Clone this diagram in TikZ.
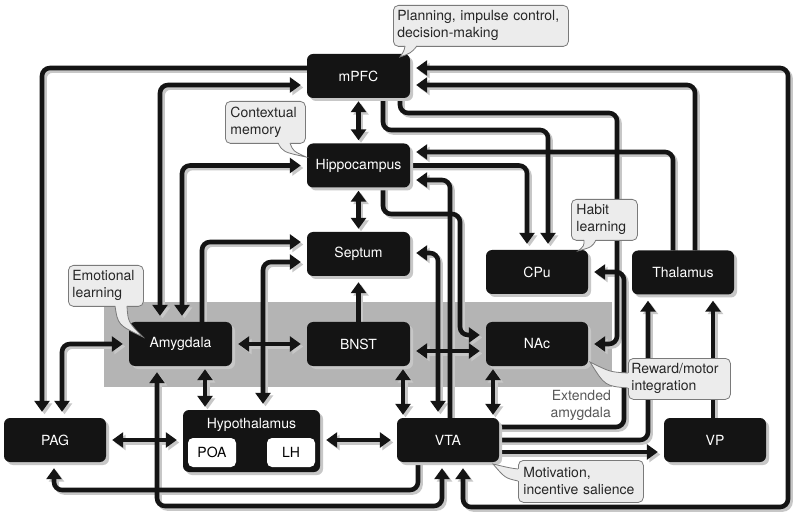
\documentclass[tikz,border=0pt]{standalone}
\usepackage{fontspec}
\setmainfont{TeX Gyre Heros}
\usetikzlibrary{arrows.meta,shadows}
\pgfdeclarelayer{back}
\pgfdeclarelayer{lines}
\pgfsetlayers{back,lines,main}
\definecolor{boxblack}{HTML}{141414}
\definecolor{calloutfill}{HTML}{ECECEC}
\definecolor{calloutedge}{HTML}{7A7A7A}
\definecolor{regiongray}{HTML}{B4B4B4}
\tikzset{
  box/.style={fill=boxblack, rounded corners=6pt, minimum width=103pt, minimum height=44pt,
    inner sep=0pt, text=white, font=\fontsize{14}{17}\selectfont,
    drop shadow={shadow xshift=3pt, shadow yshift=-3pt, fill=black!22, opacity=1}},
  subbox/.style={fill=white, rounded corners=5pt, minimum width=48pt, minimum height=29pt,
    inner sep=0pt, text=black, font=\fontsize{14}{17}\selectfont},
  conn/.style={line width=4.6pt, rounded corners=8pt},
  oneway/.style={conn, ->, shorten >=6pt},
  twoway/.style={conn, <->, shorten >=6pt, shorten <=6pt},
  shortdbl/.style={conn, <->, shorten >=3pt, shorten <=3pt},
  callout/.style={fill=calloutfill, draw=calloutedge, line width=0.8pt, rounded corners=5pt,
    anchor=north west, align=left, inner ysep=0pt, text=black!85,
    font=\fontsize{14}{17}\selectfont,
    execute at begin node={\hyphenpenalty=10000\exhyphenpenalty=10000}},
  tailfill/.style={fill=calloutfill},
  tailline/.style={draw=calloutedge, line width=0.8pt},
}
\newcommand\allconns{%
  \draw[shortdbl] (mpfc.south) -- (hip.north);
  \draw[shortdbl] (hip.south) -- (sep.north);
  \draw[oneway] (bnst.north) -- (sep.south);
  \draw[twoway] (amy.east) -- (bnst.west);
  \draw[twoway] (bnst.east |- 0,351) -- (nac.west |- 0,351);
  \draw[shortdbl] (amy.south -| 205,0) -- (hyp.north -| 205,0);
  \draw[shortdbl] (bnst.south -| 403,0) -- (vta.north -| 403,0);
  \draw[shortdbl] (nac.south -| 493,0) -- (vta.north -| 493,0);
  \draw[twoway] (pag.east) -- (hyp.west |- pag.east);
  \draw[twoway] (hyp.east |- vta.west) -- (vta.west);
  \draw[oneway] (vta.east |- 0,452) -- (vp.west |- 0,452);
  \draw[oneway] (vp.north -| 713,0) -- (thal.south -| 713,0);
  \draw[oneway] (vta.east) -| (thal.south -| 648,0);
  \draw[oneway] (vta.east |- 0,427) -| (624,272) -- (cpu.east);
  \draw[oneway] (mpfc.south -| 400,0) |- (617,113) |- (nac.east);
  \draw[oneway] (mpfc.south -| 383,0) |- (548,130) -- (cpu.north -| 548,0);
  \draw[oneway] (hip.east) -| (cpu.north -| 527,0);
  \draw[oneway] (thal.north -| 695,0) |- (mpfc.east |- 0,85);
  \draw[oneway] (thal.north -| 673,0) |- (hip.east |- 0,152);
  \draw[twoway] (mpfc.east |- 0,68) -| (788,507) -| (vta.south -| 463,0);
  \draw[oneway] (vta.north -| 450,0) |- (hip.east |- 0,180);
  \draw[twoway] (sep.east |- 0,253) -| (vta.north -| 438,0);
  \draw[oneway] (hip.south -| 383,0) |- (460,214) |- (nac.west |- 0,335);
  \draw[oneway] (mpfc.west |- 0,68) -| (pag.north -| 42,0);
  \draw[twoway] (amy.north -| 160,0) |- (mpfc.west |- 0,85);
  \draw[twoway] (amy.north -| 182,0) |- (hip.west);
  \draw[oneway] (amy.north -| 202,0) |- (sep.west |- 0,242);
  \draw[twoway] (hyp.north -| 263,0) |- (sep.west |- 0,262);
  \draw[twoway] (pag.north -| 62,0) |- (amy.west);
  \draw[oneway] (vta.south -| 418,0) |- (54,490) -- (pag.south -| 54,0);
  \draw[twoway] (amy.south -| 157,0) |- (442,506) -- (vta.south -| 442,0);
}
\begin{document}
\begin{tikzpicture}[x=1pt, y=-1pt, >={Triangle[width=15pt,length=11pt]}]
\useasboundingbox (0,0) rectangle (800,518);

% white page and extended amygdala region
\begin{pgfonlayer}{back}
  \fill[white] (0,0) rectangle (800,518);
  \fill[regiongray] (104,302) rectangle (612,387);
\end{pgfonlayer}
\node[anchor=north east, align=right, text=black!65, inner sep=0pt,
  font=\fontsize{14}{17}\selectfont] (ext) at (611,390) {Extended\\amygdala};

% boxes
\node[box] (mpfc) at (358.5,76) {mPFC};
\node[box] (hip) at (358.5,165.5) {Hippocampus};
\node[box] (sep) at (358.5,254) {Septum};
\node[box] (bnst) at (358.5,344) {BNST};
\node[box] (amy) at (180.5,344) {Amygdala};
\node[box, minimum width=102pt] (nac) at (537,344) {NAc};
\node[box, minimum width=102pt] (cpu) at (537,272) {CPu};
\node[box, minimum width=102pt] (thal) at (683,272.5) {Thalamus};
\node[box, minimum width=102pt] (vta) at (448,440) {VTA};
\node[box, minimum width=102pt] (vp) at (715,440) {VP};
\node[box, minimum width=102pt] (pag) at (55,440) {PAG};
\node[box, minimum width=137pt, minimum height=62pt] (hyp) at (251.5,441) {};
\node[text=white, inner sep=0pt, font=\fontsize{14}{17}\selectfont] (hyptxt) at (251.5,425) {Hypothalamus};
\node[subbox] (poa) at (212,452.5) {POA};
\node[subbox] (lh) at (291,452.5) {LH};

% connectors with shadows
\begin{pgfonlayer}{lines}
  \begin{scope}[transform canvas={shift={(2.5pt,-2.5pt)}}, color=black!22]
    \allconns
  \end{scope}
  \begin{scope}[color=boxblack]
    \allconns
  \end{scope}
\end{pgfonlayer}

% callouts
\node[callout, minimum width=175pt, minimum height=41pt, text width=167pt, inner xsep=4pt] (c1) at (393,5)
  {Planning, impulse control,\\decision-making};
\fill[tailfill] (405,45) .. controls (404,51) .. (400,57) .. controls (411,53) .. (417,45) -- cycle;
\draw[tailline] (405,46) .. controls (404,51) .. (400,57) .. controls (411,53) .. (417,46);

\node[callout, minimum width=80pt, minimum height=42pt, text width=70pt, inner xsep=5pt] (c2) at (225,101)
  {Contextual\\memory};
\fill[tailfill] (278,142) .. controls (283,152) .. (306,157) .. controls (293,151) .. (290,142) -- cycle;
\draw[tailline] (278,143) .. controls (283,152) .. (306,157) .. controls (293,151) .. (290,143);

\node[callout, minimum width=66pt, minimum height=41pt, text width=56pt, inner xsep=5pt] (c3) at (571,199)
  {Habit\\learning};
\fill[tailfill] (584,239) .. controls (584,246) .. (578,251) .. controls (592,247) .. (596,239) -- cycle;
\draw[tailline] (584,240) .. controls (584,246) .. (578,251) .. controls (592,247) .. (596,240);

\node[callout, minimum width=75pt, minimum height=41pt, text width=67pt, inner xsep=4pt] (c4) at (68,265)
  {Emotional\\learning};
\fill[tailfill] (115,305) .. controls (118,325) .. (143,337) .. controls (128,322) .. (127,305) -- cycle;
\draw[tailline] (115,306) .. controls (118,325) .. (143,337) .. controls (128,322) .. (127,306);

\node[callout, minimum width=102pt, minimum height=41pt, text width=96pt, inner xsep=3pt] (c5) at (628,358)
  {Reward/motor\\integration};
\fill[tailfill] (629,373) .. controls (610,372) .. (590,362) .. controls (605,386) .. (629,388) -- cycle;
\draw[tailline] (628,373) .. controls (610,372) .. (590,362) .. controls (605,386) .. (628,388);

\node[callout, minimum width=125pt, minimum height=42pt, text width=115pt, inner xsep=5pt] (c6) at (518,460)
  {Motivation,\\incentive salience};
\fill[tailfill] (519,469) .. controls (510,468) .. (493,464) .. controls (505,478) .. (519,481) -- cycle;
\draw[tailline] (518,469) .. controls (510,468) .. (493,464) .. controls (505,478) .. (518,481);
\end{tikzpicture}
\end{document}
